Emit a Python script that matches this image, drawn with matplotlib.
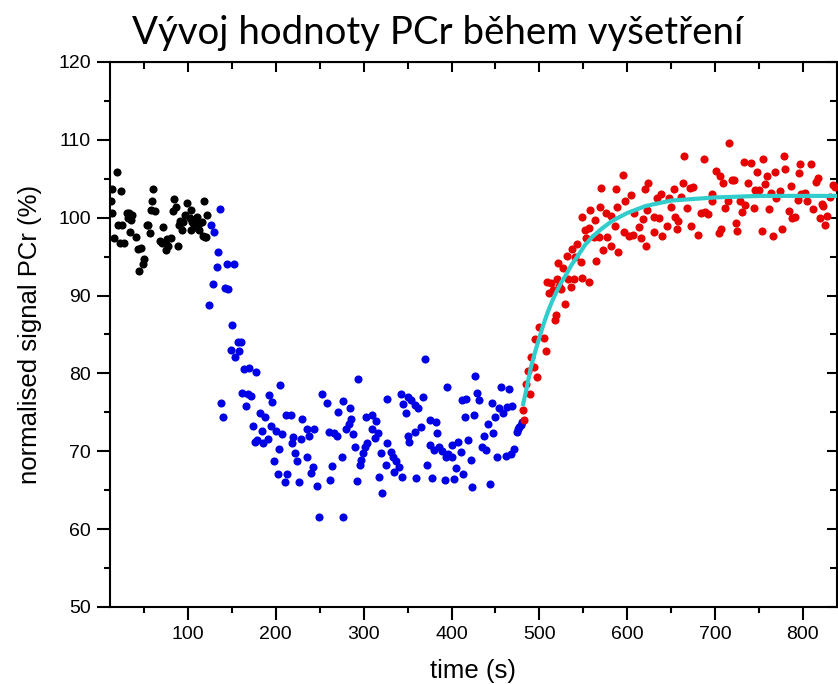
import numpy as np
import matplotlib
matplotlib.use("Agg")
import matplotlib.pyplot as plt
from matplotlib.ticker import MultipleLocator

# baseline (black), exercise (blue), recovery (red) - time in s, PCr in %
t_rest = [12, 13, 14, 16, 19, 20, 23, 24, 25, 27, 31, 32, 33, 34, 35, 36, 41, 43, 44, 47,
          49, 50, 53, 55, 57, 58, 59, 60, 62, 68, 70, 72, 75, 76, 77, 81, 83, 84, 86, 89,
          90, 91, 93, 94, 97, 99, 102, 103, 104, 105, 107, 108, 110, 111, 112, 113, 116,
          117, 118, 119, 121, 122]
v_rest = [102.2, 103.7, 100.6, 97.4, 105.9, 99.1, 96.8, 103.4, 99.1, 96.8, 100.6, 100.0,
          100.6, 98.2, 99.7, 100.4, 97.5, 96.0, 93.2, 96.1, 94.0, 94.7, 99.1, 99.1, 98.0,
          101.0, 102.2, 103.7, 100.9, 97.0, 96.8, 98.8, 95.8, 97.2, 96.3, 97.4, 100.9, 102.4,
          101.4, 96.3, 99.1, 99.6, 98.4, 99.4, 100.3, 101.9, 100.0, 98.4, 101.0, 99.5, 98.8,
          99.7, 100.1, 99.1, 99.3, 98.4, 99.4, 97.7, 102.2, 97.5, 97.5, 100.4]

t_exer = [124, 126, 128, 130, 133, 134, 136, 138, 140, 142, 144, 146, 149, 150, 152, 154,
          157, 158, 160, 162, 164, 166, 168, 170, 172, 174, 176, 178, 179, 182, 184, 185,
          188, 191, 192, 194, 196, 198, 200, 202, 204, 205, 207, 210, 212, 213, 217, 218,
          220, 222, 224, 226, 229, 230, 235, 236, 238, 240, 242, 244, 247, 249,
          253, 258, 260, 262, 264, 266, 270, 271, 275, 276, 277, 280, 283, 284, 286, 288,
          290, 292, 294, 296, 297, 299, 301, 303, 304, 309, 310, 313, 314, 316, 318, 320,
          321, 325, 326, 327, 331, 333, 334, 337, 340, 342, 344, 345, 348, 350, 351, 352,
          354, 358, 359, 360, 362, 365, 368, 370, 372, 375, 376, 378, 380, 382, 384, 386,
          389, 393, 394, 395, 396, 400, 401, 403, 405, 407, 411, 412, 413, 415, 417, 419,
          422, 423, 426, 427, 429, 431, 435, 437, 439, 441, 444, 446, 447, 449, 452, 454,
          456, 459, 462, 463, 466, 468, 469, 471, 474, 476, 477, 479, 480]
v_exer = [88.8, 99.0, 91.5, 98.1, 93.7, 95.6, 101.1, 76.2, 74.4, 91.0, 94.1, 90.8, 83.0,
          86.2, 94.1, 82.1, 84.0, 82.9, 84.0, 77.5, 80.6, 75.8, 77.3, 80.7, 77.1, 73.3, 71.2,
          80.2, 71.5, 74.9, 72.6, 71.0, 74.4, 71.6, 77.2, 73.3, 76.3, 68.7, 72.6, 67.1, 70.3,
          78.5, 72.2, 66.0, 74.7, 67.1, 74.7, 71.0, 71.8, 69.8, 68.8, 66.1, 71.6, 74.2, 72.8,
          69.2, 72.0, 67.2, 68.0, 72.9, 65.6, 61.6,
          77.4, 76.2, 72.5, 66.3, 68.1, 72.4, 71.9, 75.1, 69.3, 76.4, 61.6, 72.8, 73.5, 75.5,
          74.2, 72.2, 70.6, 66.2, 79.3, 68.3, 68.9, 69.8, 70.5, 74.4, 71.1, 72.9, 74.7, 71.7,
          73.9, 72.4, 66.7, 69.8, 64.7, 68.3, 71.0, 76.7, 69.9, 69.3, 67.4, 68.7, 68.0, 77.4,
          66.7, 76.1, 74.9, 77.0, 71.9, 71.2, 76.6, 76.0, 72.5, 66.6, 75.5, 73.1, 77.0, 81.9,
          68.3, 74.0, 70.8, 66.6, 70.2, 73.7, 72.4, 70.6, 70.0, 66.3, 69.3, 78.3, 69.7, 70.8,
          69.2, 66.5, 67.8, 71.2, 69.9, 76.6, 67.1, 74.4, 76.7, 71.5, 68.9, 65.4, 74.7, 79.7,
          77.5, 76.6, 70.6, 71.9, 70.2, 73.5, 65.8, 76.2, 72.4, 74.4, 69.3, 75.6, 78.3, 74.9,
          69.4, 75.7, 78.0, 69.7, 75.8, 70.3, 72.5, 72.8, 73.1, 73.4, 73.8]

t_reco = [481, 483, 485, 487, 489, 491, 494, 495, 497, 500, 505, 507, 509, 511, 513, 515,
          518, 519, 520, 521, 522, 525, 527, 529, 532, 533, 536, 537, 539, 541, 543, 547,
          548, 549, 552, 553, 556, 557, 558, 562, 563, 565, 568, 569, 570, 573, 576, 577,
          581, 582, 586, 587, 588, 590, 595, 596, 598, 602, 604, 607, 608,
          613, 616, 618, 620, 621, 622, 624, 630, 631, 634, 636, 639, 640, 645, 648, 650,
          653, 654, 657, 658, 661, 663, 665, 668, 672, 673, 675, 681, 684, 687, 689, 692,
          696, 697, 701, 704, 706, 707, 709, 711, 715, 716, 719, 722, 724, 725, 728, 731,
          733, 734, 738, 741, 744, 745, 748, 750, 753, 755, 757, 759, 761, 764, 766, 768,
          769, 774, 776, 778, 780, 784, 787, 788, 791, 794, 796, 797, 798, 802, 805, 809,
          812, 815, 817, 819, 822, 823, 825, 828, 831, 834, 836]
v_reco = [75.3, 74.0, 78.7, 80.3, 77.4, 82.1, 80.8, 84.4, 79.6, 86.0, 84.6, 82.9, 91.8,
          90.3, 91.6, 90.7, 86.9, 87.5, 92.1, 94.2, 91.2, 90.8, 93.6, 88.9, 95.1, 92.1, 91.1,
          96.0, 92.1, 95.0, 96.6, 94.3, 92.3, 100.1, 98.4, 97.4, 98.7, 91.8, 101.0, 97.5,
          99.7, 94.5, 97.5, 101.4, 103.8, 95.9, 100.6, 97.5, 100.2, 96.4, 98.9, 103.7, 101.4,
          95.6, 105.5, 98.2, 102.2, 97.6, 102.9, 97.8, 100.6,
          98.8, 97.4, 99.8, 103.7, 96.3, 101.0, 104.4, 100.1, 98.1, 102.5, 99.9, 103.1, 97.7,
          98.9, 102.5, 101.4, 103.7, 100.1, 98.5, 99.6, 102.7, 104.4, 107.9, 101.3, 103.8,
          98.9, 103.9, 97.8, 100.6, 107.6, 100.7, 100.5, 103.1, 102.1, 106.0, 98.0, 105.3,
          98.5, 104.4, 101.2, 102.2, 109.6, 104.9, 104.9, 99.3, 98.3, 102.1, 100.7, 107.2,
          101.6, 104.4, 107.0, 101.2, 103.6, 105.9, 103.5, 98.3, 107.5, 104.3, 105.3, 101.1,
          103.2, 97.6, 105.9, 102.5, 103.4, 98.5, 107.9, 106.2, 100.9, 104.1, 99.9, 100.1,
          102.3, 105.8, 106.9, 103.1, 103.2, 102.2, 106.9, 101.1, 104.6, 105.1, 100.0, 101.8,
          101.5, 99.1, 100.2, 102.7, 104.2, 104.0]

# recovery fit line
t_fit = [481, 485, 490, 495, 500, 505, 510, 515, 520, 525, 530, 537, 545, 552, 560, 570,
         583, 600, 621, 650, 700, 750, 800, 840]
v_fit = [75.8, 77.8, 80.6, 82.7, 84.6, 86.4, 88.0, 89.4, 90.6, 91.7, 92.6, 94.0, 95.3,
         96.5, 97.5, 98.5, 99.6, 100.6, 101.5, 102.2, 102.6, 102.8, 102.8, 102.8]

plt.rcParams['font.family'] = ['Liberation Sans', 'DejaVu Sans']

fig = plt.figure(figsize=(8.38, 6.84), dpi=100)
ax = fig.add_axes([0.131, 0.1126, 0.868, 0.7968])

ms = 34
ax.scatter(t_rest, v_rest, s=ms, color='black', lw=0, zorder=3)
ax.scatter(t_exer, v_exer, s=ms, color='#0000e6', lw=0, zorder=3)
ax.scatter(t_reco, v_reco, s=ms, color='#e60000', lw=0, zorder=3)
ax.plot(t_fit, v_fit, color='#33cccc', lw=3, zorder=4, solid_capstyle='butt')

ax.set_xlim(11, 839)
ax.set_ylim(50, 120)
ax.xaxis.set_major_locator(MultipleLocator(100))
ax.xaxis.set_minor_locator(MultipleLocator(50))
ax.yaxis.set_major_locator(MultipleLocator(10))
ax.yaxis.set_minor_locator(MultipleLocator(5))

for s in ax.spines.values():
    s.set_linewidth(1.5)

# bottom / left ticks outward
ax.tick_params(which='both', width=1.5, labelsize=14, direction='out')
ax.tick_params(which='major', length=9.5, pad=4)
ax.tick_params(which='minor', length=4.5)

# top / right ticks go inward
sec_x = ax.secondary_xaxis('top')
sec_x.xaxis.set_major_locator(MultipleLocator(100))
sec_x.xaxis.set_minor_locator(MultipleLocator(50))
sec_x.tick_params(which='major', direction='in', length=7.5, width=1.5, labeltop=False)
sec_x.tick_params(which='minor', direction='in', length=5, width=1.5)
sec_y = ax.secondary_yaxis('right')
sec_y.yaxis.set_major_locator(MultipleLocator(10))
sec_y.yaxis.set_minor_locator(MultipleLocator(5))
sec_y.tick_params(which='major', direction='in', length=7.5, width=1.5, labelright=False)
sec_y.tick_params(which='minor', direction='in', length=5, width=1.5)

ax.set_xlabel('time (s)', fontsize=18.5, labelpad=12)
ax.set_ylabel('normalised signal PCr (%)', fontsize=18.5, labelpad=12)

fig.text(0.522, 0.952, 'Vývoj hodnoty PCr během vyšetření', ha='center', va='center',
         fontsize=27.6, family=['Lato', 'DejaVu Sans'])

fig.savefig('out.png', dpi=100)
